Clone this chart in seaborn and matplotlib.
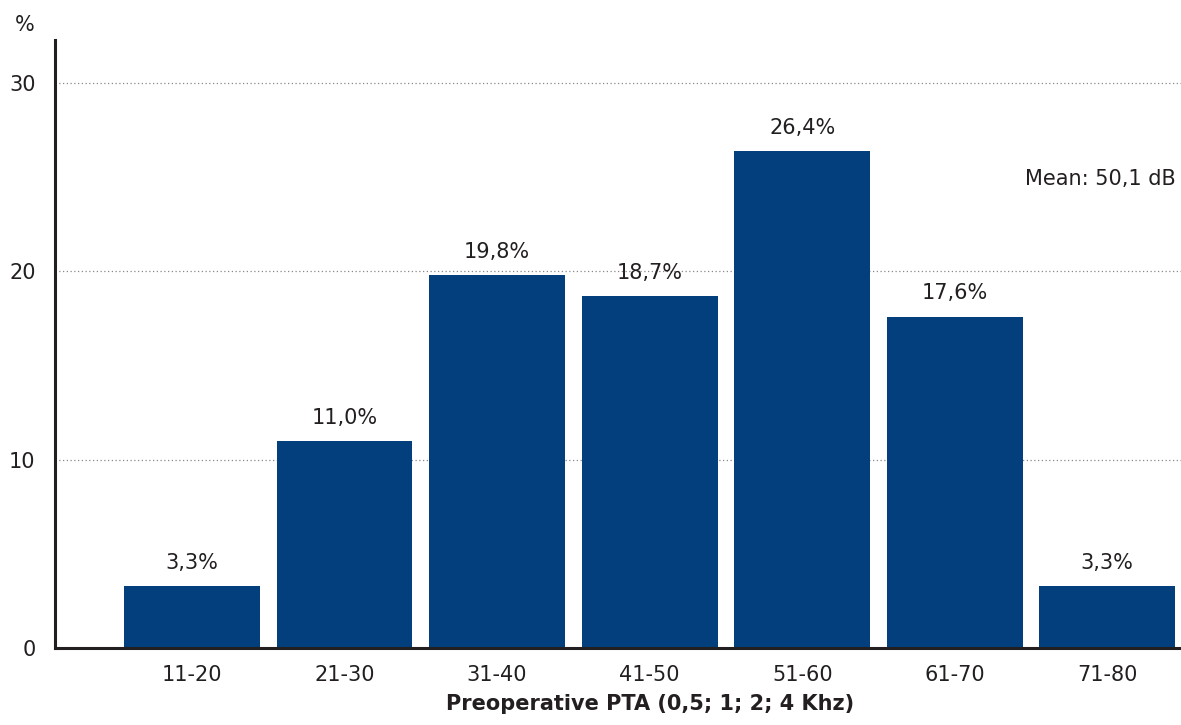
import matplotlib
matplotlib.use("Agg")
import matplotlib.pyplot as plt
import seaborn as sns
import pandas as pd

# Distribution of preoperative pure-tone average by range
categories = ["11-20", "21-30", "31-40", "41-50", "51-60", "61-70", "71-80"]
percentages = [3.3, 11.0, 19.8, 18.7, 26.4, 17.6, 3.3]
value_labels = ["3,3%", "11,0%", "19,8%", "18,7%", "26,4%", "17,6%", "3,3%"]
y_ticks = [0, 10, 20, 30]
mean_text = "Mean: 50,1 dB"
x_title = "Preoperative PTA (0,5; 1; 2; 4 Khz)"

sns.set_theme(style="white")
plt.rcParams["font.family"] = ["DejaVu Sans"]

text_color = "#231F20"
bar_color = "#023F7C"

df = pd.DataFrame({"range": categories, "pct": percentages})

fig = plt.figure(figsize=(11.81, 7.25), dpi=100)
ax = fig.add_axes([0.0466, 0.1062, 0.953, 0.839])

sns.barplot(data=df, x="range", y="pct", color=bar_color, saturation=1,
            width=0.89, linewidth=0, edgecolor="none", ax=ax, zorder=3)

ax.set_xlim(-0.898, 6.48)
ax.set_ylim(0, 32.3)

# dotted reference lines
for t in y_ticks[1:]:
    ax.axhline(t, color="#888888", linestyle=(0, (1, 2)), linewidth=0.9, zorder=1)

# value labels above bars
for i, (v, lab) in enumerate(zip(percentages, value_labels)):
    ax.text(i, v + 0.7, lab, ha="center", va="bottom", fontsize=15,
            color=text_color)

ax.text(6.45, 24.9, mean_text, ha="right", va="center", fontsize=15,
        color=text_color)

ax.set_yticks(y_ticks)
ax.set_yticklabels([str(t) for t in y_ticks], fontsize=15, color=text_color)
ax.tick_params(axis="x", labelsize=15, colors=text_color, length=0, pad=12)
ax.tick_params(axis="y", length=0, pad=14)

ax.set_xlabel(x_title, fontsize=15, fontweight="bold", color=text_color)
ax.xaxis.set_label_coords((649.5 - 55) / 1125, -0.075)
ax.set_ylabel("")

for s in ["top", "right"]:
    ax.spines[s].set_visible(False)
ax.spines["left"].set_color("#231F20")
ax.spines["left"].set_linewidth(2.2)
ax.spines["bottom"].set_color("#231F20")
ax.spines["bottom"].set_linewidth(2.2)
ax.spines["bottom"].set_zorder(4)

fig.text(25 / 1181, 1 - 25 / 725, "%", ha="center", va="center", fontsize=15,
         color=text_color)

fig.savefig("out.png", dpi=100, facecolor="white")
